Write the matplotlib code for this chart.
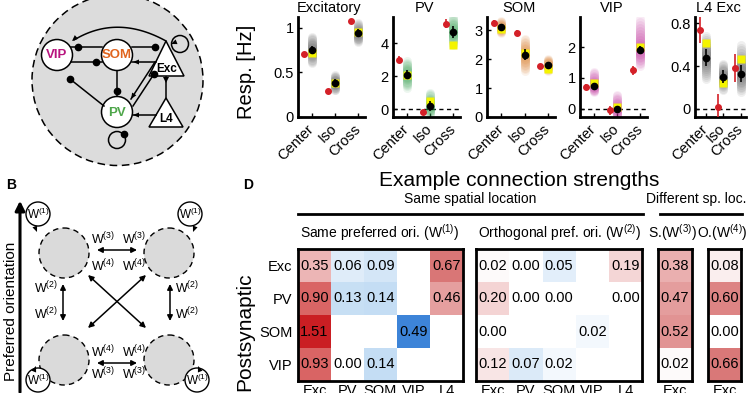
import numpy as np
import matplotlib
matplotlib.use('Agg')
import matplotlib.pyplot as plt
from matplotlib.patches import Circle, Polygon
from matplotlib.colors import LinearSegmentedColormap

plt.rcParams['font.family'] = ['Liberation Sans', 'DejaVu Sans']
plt.rcParams['mathtext.fontset'] = 'custom'
plt.rcParams['mathtext.rm'] = 'Liberation Sans'
plt.rcParams['mathtext.it'] = 'Liberation Sans'

# ---------------- data ----------------
conds = ['Center', 'Iso', 'Cross']
panel_titles = ['Excitatory', 'PV', 'SOM', 'VIP', 'L4 Exc']

exc_data = [0.70, 0.29, 1.07]
exc_data_err = [0.02, 0.015, 0.03]
exc_model = [0.75, 0.38, 0.94]
exc_model_err = [0.04, 0.04, 0.04]
exc_best = [0.72, 0.38, 0.95]
exc_cloud_lo = [0.60, 0.30, 0.84]
exc_cloud_hi = [0.90, 0.47, 1.05]

pv_data = [3.0, -0.2, 5.2]
pv_data_err = [0.2, 0.15, 0.25]
pv_model = [2.1, 0.2, 4.7]
pv_model_err = [0.3, 0.3, 0.35]
pv_best = [2.1, 0.5, 3.9]
pv_cloud_lo = [1.3, -0.35, 3.9]
pv_cloud_hi = [2.9, 1.0, 5.6]

som_data = [3.25, 2.9, 1.75]
som_data_err = [0.08, 0.1, 0.08]
som_model = [3.1, 2.15, 1.8]
som_model_err = [0.08, 0.2, 0.1]
som_best = [3.05, 2.2, 1.65]
som_cloud_lo = [2.9, 1.6, 1.6]
som_cloud_hi = [3.3, 2.7, 2.0]

vip_data = [0.70, -0.05, 1.25]
vip_data_err = [0.1, 0.15, 0.15]
vip_model = [0.75, 0.0, 1.9]
vip_model_err = [0.1, 0.1, 0.12]
vip_best = [0.85, 0.05, 2.0]
vip_cloud_lo = [0.55, -0.3, 1.4]
vip_cloud_hi = [1.2, 0.45, 2.9]

l4_data = [0.74, 0.02, 0.38]
l4_data_err = [0.12, 0.12, 0.13]
l4_model = [0.48, 0.30, 0.33]
l4_model_err = [0.08, 0.06, 0.08]
l4_best = [0.62, 0.24, 0.47]
l4_cloud_lo = [0.28, 0.18, 0.16]
l4_cloud_hi = [0.68, 0.42, 0.60]

pre_labels = ['Exc', 'PV', 'SOM', 'VIP', 'L4']
post_labels = ['Exc', 'PV', 'SOM', 'VIP']
nan = np.nan
w1 = [[0.35, 0.06, 0.09, nan, 0.67],
      [0.90, 0.13, 0.14, nan, 0.46],
      [1.51, nan, nan, 0.49, nan],
      [0.93, 0.00, 0.14, nan, nan]]
w2 = [[0.02, 0.00, 0.05, nan, 0.19],
      [0.20, 0.00, 0.00, nan, 0.00],
      [0.00, nan, nan, 0.02, nan],
      [0.12, 0.07, 0.02, nan, nan]]
w3 = [0.38, 0.47, 0.52, 0.02]
w4 = [0.08, 0.60, 0.00, 0.66]

# ---------------- figure ----------------
W, H = 750, 393
fig = plt.figure(figsize=(7.5, 3.93), dpi=100)
ax0 = fig.add_axes([0, 0, 1, 1])
ax0.set_xlim(0, W)
ax0.set_ylim(H, 0)
ax0.axis('off')


def px_axes(x0, y0, x1, y1):
    return fig.add_axes([x0 / W, 1 - y1 / H, (x1 - x0) / W, (y1 - y0) / H])


def head(tip, d, size=6, width=5, color='k'):
    d = np.array(d, float)
    d = d / np.hypot(*d)
    p = np.array([-d[1], d[0]])
    tip = np.array(tip, float)
    b = tip - d * size
    ax0.add_patch(Polygon([tip, b + p * width / 2, b - p * width / 2],
                          closed=True, color=color, lw=0, zorder=5))


def dot(x, y, s=4.5):
    ax0.plot([x], [y], 'o', color='k', ms=s, zorder=5)


def line(xs, ys, lw=1.1):
    ax0.plot(xs, ys, color='k', lw=lw, zorder=4)


# ---------------- panel A ----------------
ax0.add_patch(Circle((117.5, 80), 85.5, facecolor='#dcdcdc', edgecolor='k',
                     lw=1.1, ls=(0, (5, 3)), zorder=1))
for (cx, cy, name, col) in [(57, 55, 'VIP', '#b8157f'), (117, 55, 'SOM', '#e0641e'),
                            (117, 112, 'PV', '#4ea64a')]:
    ax0.add_patch(Circle((cx, cy), 15.5, facecolor='white', edgecolor='k', lw=1.1, zorder=3))
    ax0.text(cx, cy + 0.5, name, color=col, fontsize=9.5, fontweight='bold',
             ha='center', va='center', zorder=6)
ax0.add_patch(Polygon([(166, 41), (149, 76), (184, 76)], closed=True, facecolor='white',
                      edgecolor='k', lw=1.1, zorder=3))
ax0.text(167, 69, 'Exc', fontsize=8.5, fontweight='bold', ha='center', va='center', zorder=6)
ax0.add_patch(Polygon([(166, 98), (149, 127), (183, 127)], closed=True, facecolor='white',
                      edgecolor='k', lw=1.1, zorder=3))
ax0.text(166, 119, 'L4', fontsize=8.5, fontweight='bold', ha='center', va='center', zorder=6)

# VIP <-> SOM
line([71, 102], [47, 47]); dot(78, 47)
line([71, 102], [62, 62]); dot(96, 62)
# SOM <-> Exc
line([132, 156], [47, 47]); dot(155, 47)
line([132, 156], [62, 62]); head((133, 62), (-1, 0))
# Exc -> VIP arc
t = np.linspace(0, 1, 60)
P0, P1, P2 = np.array([166, 41]), np.array([117, 14]), np.array([74, 40])
bz = (1 - t)[:, None] ** 2 * P0 + 2 * ((1 - t) * t)[:, None] * P1 + (t ** 2)[:, None] * P2
line(bz[:, 0], bz[:, 1])
head((72, 41), (-1, 0.9))
# Exc self loop
ax0.add_patch(Circle((180, 44), 8.5, facecolor='none', edgecolor='k', lw=1.1, zorder=4))
head((171, 44), (-1, 0.4))
# SOM -> PV
line([117, 117], [71, 96]); dot(117, 91)
# PV -> VIP
line([104, 70], [106, 79]); dot(70, 79)
# Exc -> PV
line([155, 131], [62, 99]); head((131, 99), (-0.55, 0.85))
# PV -> Exc
line([133, 154], [106, 74]); dot(154, 74)
# L4 -> PV
line([156, 133], [115, 115]); head((133, 115), (-1, 0))
# L4 -> Exc
line([166, 166], [98, 77]); head((166, 83), (0, 1), size=6, width=6)
# PV self loop
ax0.add_patch(Circle((117, 140), 8.5, facecolor='none', edgecolor='k', lw=1.1, zorder=4))
dot(124, 134)

# ---------------- panel B ----------------
ax0.text(6, 185, 'B', fontsize=10, fontweight='bold', ha='left', va='center')
ax0.annotate('', xy=(20, 198), xytext=(20, 395),
             arrowprops=dict(arrowstyle='-|>', lw=2.2, color='k', mutation_scale=14))
ax0.text(11, 311, 'Preferred orientation', rotation=90, fontsize=11,
         ha='center', va='center')
for (cx, cy) in [(64, 253), (169, 253), (64, 360), (169, 360)]:
    ax0.add_patch(Circle((cx, cy), 25, facecolor='#dadada', edgecolor='k', lw=1.0,
                         ls=(0, (4, 3)), zorder=1))
wfs = 9
for (cx, cy, tip, d) in [(38, 214, (37, 232), (0.4, 1)), (190, 214, (193, 232), (-0.4, 1)),
                         (38, 380, (36, 366), (0.4, -1)), (197, 380, (198, 366), (-0.4, -1))]:
    ax0.add_patch(Circle((cx, cy), 12, facecolor='white', edgecolor='k', lw=1.0, zorder=3))
    ax0.text(cx, cy, r'W$^{(1)}$', fontsize=8.5, ha='center', va='center', zorder=6)
    head(tip, d, size=6, width=5)
dbl = dict(arrowstyle='<|-|>', lw=1.1, color='k', mutation_scale=8, shrinkA=0, shrinkB=0)
ax0.annotate('', xy=(97, 250), xytext=(137, 250), arrowprops=dbl)
ax0.annotate('', xy=(97, 363), xytext=(137, 363), arrowprops=dbl)
ax0.annotate('', xy=(63, 284), xytext=(63, 321), arrowprops=dbl)
ax0.annotate('', xy=(170, 284), xytext=(170, 321), arrowprops=dbl)
ax0.annotate('', xy=(88, 275), xytext=(146, 328), arrowprops=dbl)
ax0.annotate('', xy=(146, 275), xytext=(88, 328), arrowprops=dbl)
for (x, y, s) in [(103, 239, 3), (134, 239, 3), (103, 266, 4), (134, 266, 4),
                  (103, 352, 4), (134, 352, 4), (103, 374, 3), (134, 374, 3)]:
    ax0.text(x, y, r'W$^{(%d)}$' % s, fontsize=wfs, ha='center', va='center')
for y in [288, 314]:
    ax0.text(58, y, r'W$^{(2)}$', fontsize=wfs, ha='right', va='center')
    ax0.text(175, y, r'W$^{(2)}$', fontsize=wfs, ha='left', va='center')

# ---------------- panel C ----------------
ax0.text(246, 72, 'Resp. [Hz]', rotation=90, fontsize=14.5, ha='center', va='center')
panels = [
    (exc_data, exc_data_err, exc_model, exc_model_err, exc_best, exc_cloud_lo, exc_cloud_hi),
    (pv_data, pv_data_err, pv_model, pv_model_err, pv_best, pv_cloud_lo, pv_cloud_hi),
    (som_data, som_data_err, som_model, som_model_err, som_best, som_cloud_lo, som_cloud_hi),
    (vip_data, vip_data_err, vip_model, vip_model_err, vip_best, vip_cloud_lo, vip_cloud_hi),
    (l4_data, l4_data_err, l4_model, l4_model_err, l4_best, l4_cloud_lo, l4_cloud_hi),
]
cloud_cols = ['#505050', '#2f9e4c', '#d9781f', '#c02a9a', '#505050']
xr = [(298, 365), (393, 460), (487, 555), (580, 647), (695, 746)]
ylims = [(0, 1.12), (-0.48, 5.6), (0, 3.45), (-0.26, 2.97), (-0.075, 0.86)]
yticks = [([0, 0.5, 1], ['0', '0.5', '1']), ([0, 2, 4], ['0', '2', '4']),
          ([0, 1, 2, 3], ['0', '1', '2', '3']), ([0, 1, 2], ['0', '1', '2']),
          ([0, 0.4, 0.8], ['0', '0.4', '0.8'])]
dashed = [False, True, False, True, True]
xs = np.arange(3)
for k in range(5):
    d, de, m, me, b, lo, hi = panels[k]
    ax = px_axes(xr[k][0], 17, xr[k][1], 117)
    ax.set_facecolor('none')
    ax.set_xlim(-0.6, 2.3)
    ax.set_ylim(*ylims[k])
    for i in range(3):
        for f in np.linspace(0.15, 1, 10):
            ax.plot([xs[i], xs[i]], [m[i] - (m[i] - lo[i]) * f, m[i] + (hi[i] - m[i]) * f],
                    lw=6.5, color=cloud_cols[k], alpha=0.09, solid_capstyle='round', zorder=2)
    ax.plot(xs, b, 's', color='#f4f400', ms=5.5, mec='none', zorder=3)
    ax.errorbar(xs, m, yerr=me, fmt='o', color='k', ms=4.5, elinewidth=1.2, capsize=0, zorder=4)
    ax.errorbar(xs - 0.32, d, yerr=de, fmt='o', color='#d42028', ms=4, elinewidth=1.2,
                capsize=0, zorder=4)
    if dashed[k]:
        ax.axhline(0, color='k', lw=1, ls=(0, (3, 2.5)), zorder=1)
    for s in ['top', 'right']:
        ax.spines[s].set_visible(False)
    for s in ['left', 'bottom']:
        ax.spines[s].set_linewidth(2)
    ax.set_yticks(yticks[k][0])
    ax.set_yticklabels(yticks[k][1], fontsize=10.5)
    ax.set_xticks(xs)
    ax.set_xticklabels(conds, fontsize=10.5, rotation=45, ha='right', va='center',
                       rotation_mode='anchor')
    ax.tick_params(axis='both', direction='in', length=3, width=1)
    ax.tick_params(axis='x', pad=7)
    ax.tick_params(axis='y', pad=3)
    cx = 0.5 * (xr[k][0] + xr[k][1])
    ax0.text(cx - 2, 12, panel_titles[k], fontsize=10.5, ha='center', va='baseline')

# ---------------- panel D ----------------
red_cmap = LinearSegmentedColormap.from_list(
    'r', [(0, '#ffffff'), (0.22, '#ecb4b4'), (0.42, '#d97676'), (0.6, '#d96262'), (1, '#c8141a')])
blue_cmap = LinearSegmentedColormap.from_list(
    'b', [(0, '#ffffff'), (0.1, '#e2eefa'), (0.28, '#c4ddf4'), (1, '#3a82d8')])
inhib = {'PV', 'SOM', 'VIP'}


def color_of(v, pre):
    if np.isnan(v):
        return (1, 1, 1, 1)
    if pre in inhib:
        return blue_cmap(min(v / 0.5, 1))
    return red_cmap(min(v / 1.6, 1))


def heat(x0, x1, mat, cols, rows_lab):
    mat = np.array(mat, float)
    if mat.ndim == 1:
        mat = mat[:, None]
    ax = px_axes(x0, 249, x1, 381)
    img = np.array([[color_of(mat[i, j], cols[j]) for j in range(mat.shape[1])]
                    for i in range(mat.shape[0])])
    ax.imshow(img, aspect='auto', interpolation='nearest')
    for i in range(mat.shape[0]):
        for j in range(mat.shape[1]):
            if not np.isnan(mat[i, j]):
                ax.text(j, i, '%.2f' % mat[i, j], ha='center', va='center', fontsize=10.5)
    ax.set_xticks(range(mat.shape[1]))
    ax.set_xticklabels(cols, fontsize=10.5)
    ax.set_yticks(range(mat.shape[0]))
    if rows_lab:
        ax.set_yticklabels(post_labels, fontsize=10.5)
    else:
        ax.set_yticklabels([])
    ax.tick_params(length=0, pad=2)
    ax.tick_params(axis='y', pad=4)
    for s in ax.spines.values():
        s.set_linewidth(2)
    return ax


heat(298, 463, w1, pre_labels, True)
heat(476, 642, w2, pre_labels, False)
heat(658, 692, w3, ['Exc'], False)
heat(708, 741, w4, ['Exc'], False)

ax0.text(248, 185, 'D', fontsize=10, fontweight='bold', ha='center', va='center')
ax0.text(519, 181, 'Example connection strengths', fontsize=15, ha='center', va='center')
ax0.text(470, 199, 'Same spatial location', fontsize=10, ha='center', va='center')
ax0.text(696, 199, 'Different sp. loc.', fontsize=10, ha='center', va='center')
ax0.plot([298, 643], [214, 214], color='k', lw=2)
ax0.plot([660, 742], [214, 214], color='k', lw=2)
ax0.text(380, 233, r'Same preferred ori. (W$^{(1)}$)', fontsize=10, ha='center', va='center')
ax0.text(560, 233, r'Orthogonal pref. ori. (W$^{(2)}$)', fontsize=10, ha='center', va='center')
ax0.text(673, 233, r'S.(W$^{(3)}$)', fontsize=10, ha='center', va='center')
ax0.text(722, 233, r'O.(W$^{(4)}$)', fontsize=10, ha='center', va='center')
ax0.text(245, 332, 'Postsynaptic', rotation=90, fontsize=15, ha='center', va='center')

fig.savefig('out.png', dpi=100)
